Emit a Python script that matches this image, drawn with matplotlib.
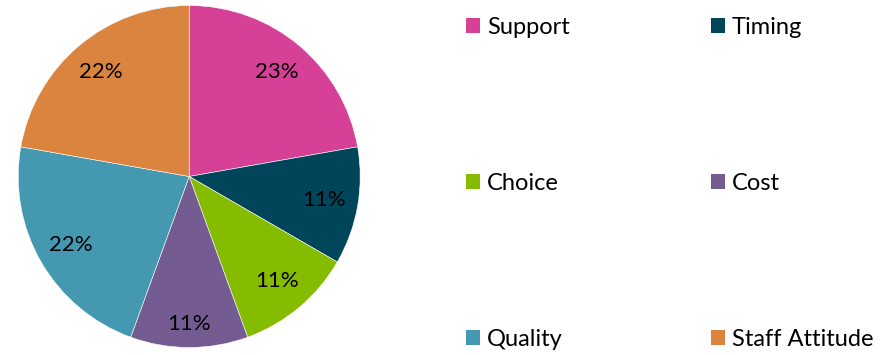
import numpy as np
import matplotlib
matplotlib.use("Agg")
import matplotlib.pyplot as plt

plt.rcParams['font.family'] = ['Lato', 'DejaVu Sans']

categories = ["Support", "Timing", "Choice", "Cost", "Quality", "Staff Attitude"]
values = [2, 1, 1, 1, 2, 2]
colors = ["#D64096", "#004559", "#86BC00", "#745B91", "#4498B0", "#DB843F"]


def largest_remainder_pct(vals):
    vals = np.asarray(vals, dtype=float)
    raw = vals / vals.sum() * 100
    floors = np.floor(raw).astype(int)
    rem = raw - floors
    short = 100 - floors.sum()
    order = sorted(range(len(vals)), key=lambda i: (-round(rem[i], 9), i))
    for i in order[:short]:
        floors[i] += 1
    return [f"{p}%" for p in floors]


pct_labels = largest_remainder_pct(values)
label_it = iter(pct_labels)

W, H = 892, 355
fig = plt.figure(figsize=(W / 100, H / 100), dpi=100)

cx, cy, r = 189.2, 176.5, 171.0
ax = fig.add_axes([(cx - r) / W, (H - cy - r) / H, 2 * r / W, 2 * r / H])
wedges, texts, autotexts = ax.pie(
    values, colors=colors, startangle=90, counterclock=False,
    autopct=lambda p: next(label_it), pctdistance=0.8,
    wedgeprops=dict(edgecolor="white", linewidth=0.4),
    textprops=dict(fontsize=16, color="black"),
)
label_radii = [0.8, 0.8, 0.8, 0.86, 0.8, 0.8]
for w, t, rr in zip(wedges, autotexts, label_radii):
    ang = np.deg2rad((w.theta1 + w.theta2) / 2)
    t.set_position((rr * np.cos(ang), rr * np.sin(ang)))
ax.set_xlim(-1, 1)
ax.set_ylim(-1, 1)
ax.set_aspect("equal")
ax.axis("off")

# legend is filled row by row (2 columns)
ncol = 2
nrow = int(np.ceil(len(categories) / ncol))
order = [rI * ncol + c for c in range(ncol) for rI in range(nrow)]
fs = 17
fpx = fs / 72 * 100
leg = fig.legend(
    [wedges[i] for i in order], [categories[i] for i in order],
    ncol=ncol, frameon=False, fontsize=fs,
    loc="upper left", bbox_to_anchor=(466 / W, 1 - 17 / H),
    handlelength=14 / fpx, handleheight=14 / fpx, handletextpad=7 / fpx,
    columnspacing=141 / fpx, labelspacing=5.72, borderpad=0, borderaxespad=0,
)
for h in leg.legend_handles:
    h.set_edgecolor("none")

fig.savefig("out.png", dpi=100)
